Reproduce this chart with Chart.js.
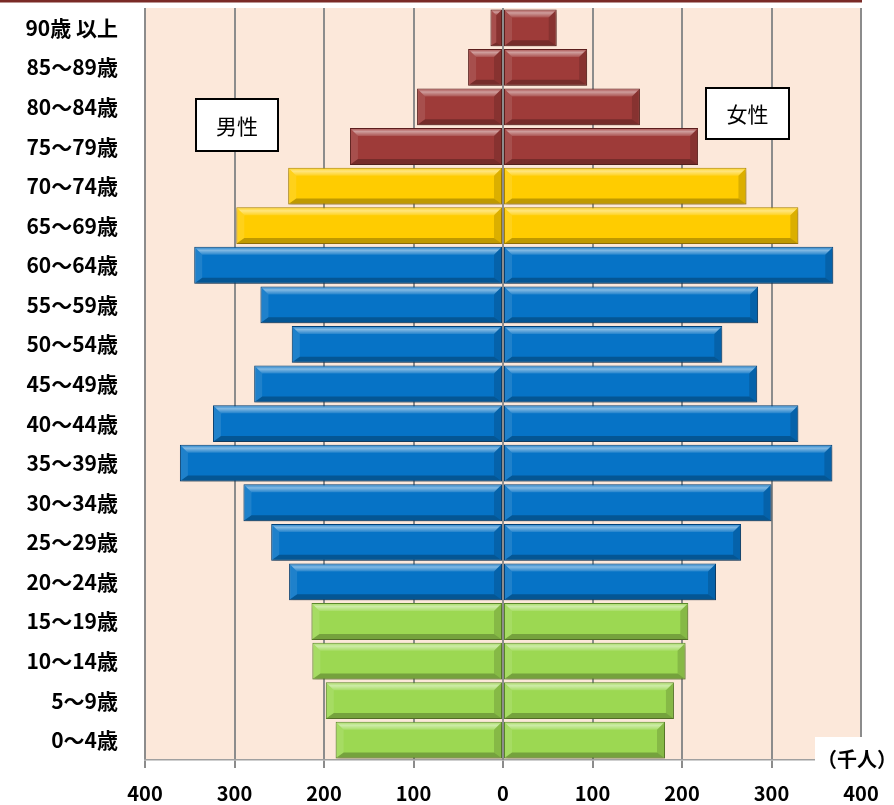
<!DOCTYPE html>
<html lang="ja">
<head>
<meta charset="utf-8">
<script src="https://cdn.jsdelivr.net/npm/chart.js@4.4.1/dist/chart.umd.min.js"></script>
<style>
  html, body { margin: 0; padding: 0; background: #fff; }
  #wrap { width: 894px; height: 805px; position: relative; }
</style>
</head>
<body>
<div id="wrap"><canvas id="pyramid"></canvas></div>
<script>
// --- datos (千人) ---
const ageLabels = [
  '90歳 以上', '85～89歳', '80～84歳', '75～79歳', '70～74歳', '65～69歳',
  '60～64歳', '55～59歳', '50～54歳', '45～49歳', '40～44歳', '35～39歳',
  '30～34歳', '25～29歳', '20～24歳', '15～19歳', '10～14歳', '5～9歳', '0～4歳'
];
const maleValues   = [14, 39, 96, 171, 240, 298, 345, 271, 236, 278, 324, 361, 290, 259, 239, 214, 213, 198, 187];
const femaleValues = [60, 94, 153, 218, 272, 330, 369, 285, 245, 284, 330, 368, 300, 266, 238, 207, 204, 191, 181];
// grupo de edad de cada fila (para el color)
const ageGroups = [
  'old', 'old', 'old', 'old', 'senior', 'senior',
  'work', 'work', 'work', 'work', 'work', 'work', 'work', 'work', 'work',
  'young', 'young', 'young', 'young'
];
const xTickValues = [-400, -300, -200, -100, 0, 100, 200, 300, 400];
const unitLabel = '（千人）';
const maleLabel = '男性';
const femaleLabel = '女性';

const palette = {
  old:    { base: '#9E3B39', border: '#5E1F1E' },
  senior: { base: '#FFCC00', border: '#B08A00' },
  work:   { base: '#0673C6', border: '#03437A' },
  young:  { base: '#9CD852', border: '#5C8A2C' }
};

const CJK = '"Noto Sans CJK JP", "Noto Sans", sans-serif';

// fondo del área + línea superior + cajas de texto
const decoPlugin = {
  id: 'deco',
  beforeDraw(chart) {
    const { ctx, chartArea: a } = chart;
    ctx.save();
    ctx.fillStyle = '#fff';
    ctx.fillRect(0, 0, chart.width, chart.height);
    ctx.fillStyle = '#FCE8DA';
    ctx.fillRect(a.left, a.top, a.right - a.left, a.bottom - a.top);
    ctx.fillStyle = '#7A2A26';
    ctx.fillRect(0, 0, a.right + 1, 2.5);
    ctx.restore();
  },
  afterDraw(chart) {
    const { ctx, chartArea: a, scales } = chart;
    ctx.save();
    // línea del cero encima de las barras
    const x0 = scales.x.getPixelForValue(0);
    ctx.strokeStyle = '#8C8C8C';
    ctx.lineWidth = 2;
    ctx.beginPath();
    ctx.moveTo(x0, a.top);
    ctx.lineTo(x0, a.bottom);
    ctx.stroke();

    // cajas 男性 / 女性
    const box = (cx, cy, w, h, txt) => {
      ctx.fillStyle = '#fff';
      ctx.fillRect(cx - w / 2, cy - h / 2, w, h);
      ctx.strokeStyle = '#000';
      ctx.lineWidth = 2;
      ctx.strokeRect(cx - w / 2, cy - h / 2, w, h);
      ctx.fillStyle = '#000';
      ctx.font = '21px ' + CJK;
      ctx.textAlign = 'center';
      ctx.textBaseline = 'middle';
      ctx.fillText(txt, cx, cy + 1);
    };
    box(237, 125, 82, 52, maleLabel);
    box(747.5, 113.5, 83, 51, femaleLabel);

    // unidad
    ctx.fillStyle = '#fff';
    ctx.fillRect(815, 737, chart.width - 815, 40);
    ctx.fillStyle = '#000';
    ctx.font = 'bold 20px ' + CJK;
    ctx.textAlign = 'center';
    ctx.textBaseline = 'middle';
    ctx.fillText(unitLabel, 857, 759);
    ctx.restore();
  }
};

// sombra bajo las barras y bisel encima
const bevelPlugin = {
  id: 'bevel',
  beforeDatasetsDraw(chart) {
    const ctx = chart.ctx;
    ctx.save();
    ctx.shadowColor = 'rgba(60,40,30,0.35)';
    ctx.shadowBlur = 4;
    ctx.shadowOffsetX = 1;
    ctx.shadowOffsetY = 3;
  },
  afterDatasetsDraw(chart) {
    const ctx = chart.ctx;
    ctx.restore();
    ctx.save();
    chart.data.datasets.forEach((ds, di) => {
      chart.getDatasetMeta(di).data.forEach(bar => {
        const p = bar.getProps(['x', 'y', 'base', 'height'], true);
        const l = Math.min(p.x, p.base) + 1, r = Math.max(p.x, p.base) - 1;
        const t = p.y - p.height / 2 + 1, btm = p.y + p.height / 2 - 1;
        const b = Math.min(7, (r - l) / 2);
        const quad = (pts, fill) => {
          ctx.beginPath();
          ctx.moveTo(pts[0][0], pts[0][1]);
          for (let i = 1; i < pts.length; i++) ctx.lineTo(pts[i][0], pts[i][1]);
          ctx.closePath();
          ctx.fillStyle = fill;
          ctx.fill();
        };
        const g = ctx.createLinearGradient(0, t, 0, t + b);
        g.addColorStop(0, 'rgba(255,255,255,0.2)');
        g.addColorStop(0.35, 'rgba(255,255,255,0.5)');
        g.addColorStop(1, 'rgba(255,255,255,0.12)');
        quad([[l, t], [r, t], [r - b, t + b], [l + b, t + b]], g);
        quad([[l, btm], [r, btm], [r - b, btm - b + 2], [l + b, btm - b + 2]], 'rgba(0,0,0,0.25)');
        quad([[l, t], [l + b, t + b], [l + b, btm - b + 2], [l, btm]], 'rgba(255,255,255,0.1)');
        quad([[r, t], [r - b, t + b], [r - b, btm - b + 2], [r, btm]], 'rgba(0,0,0,0.14)');
      });
    });
    ctx.restore();
  }
};

const baseColors = ageGroups.map(g => palette[g].base);
const borderColors = ageGroups.map(g => palette[g].border);

new Chart(document.getElementById('pyramid'), {
  type: 'bar',
  data: {
    labels: ageLabels,
    datasets: [
      { label: maleLabel, data: maleValues.map(v => -v),
        backgroundColor: baseColors, borderColor: borderColors, borderWidth: 1,
        borderSkipped: false, barPercentage: 0.93, categoryPercentage: 1 },
      { label: femaleLabel, data: femaleValues,
        backgroundColor: baseColors, borderColor: borderColors, borderWidth: 1,
        borderSkipped: false, barPercentage: 0.93, categoryPercentage: 1 }
    ]
  },
  options: {
    indexAxis: 'y',
    responsive: true,
    maintainAspectRatio: false,
    animation: false,
    layout: { padding: { top: 8, right: 33, bottom: 0, left: 0 } },
    plugins: { legend: { display: false }, tooltip: { enabled: false } },
    scales: {
      x: {
        stacked: true,
        min: -400, max: 400,
        afterBuildTicks: s => { s.ticks = xTickValues.map(v => ({ value: v })); },
        afterFit: s => { s.height = 45; s.paddingLeft = 0; s.paddingRight = 0; },
        grid: { color: '#8C8C8C', lineWidth: 2, tickLength: 8, drawTicks: true },
        border: { color: '#A0A0A0', width: 1.5 },
        ticks: {
          padding: 13,
          color: '#000',
          font: { family: CJK, size: 20, weight: 'bold' },
          callback: v => Math.abs(v)
        }
      },
      y: {
        stacked: true,
        afterFit: s => { s.width = 145; s.paddingTop = 0; s.paddingBottom = 0; },
        grid: { display: false, drawTicks: false },
        border: { display: false },
        ticks: {
          padding: 27,
          color: '#000',
          font: { family: CJK, size: 21, weight: 'bold' }
        }
      }
    }
  },
  plugins: [decoPlugin, bevelPlugin]
});
</script>
</body>
</html>
